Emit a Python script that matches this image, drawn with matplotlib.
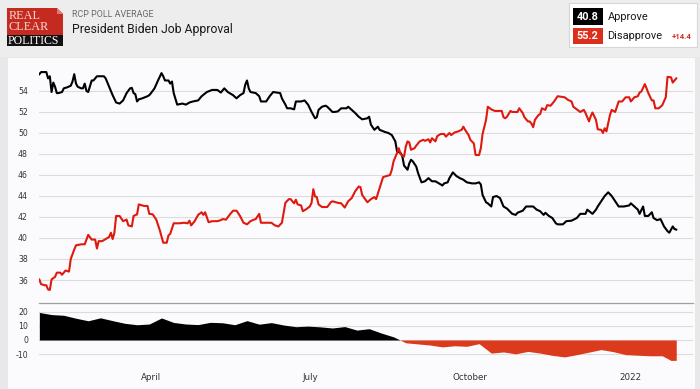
import numpy as np
import pandas as pd
import matplotlib
matplotlib.use("Agg")
import matplotlib.pyplot as plt
from matplotlib.patches import Rectangle, Polygon

plt.rcParams["axes.unicode_minus"] = False

# --- data (days after 2021-01-27, RCP average %) ---
start = pd.Timestamp("2021-01-27")

approve_days = [0, 1, 4, 5, 6, 7, 8, 9, 10, 11, 13, 14, 16, 18, 19, 20, 21, 22, 24, 25,
                26, 27, 28, 30, 31, 33, 37, 38, 40, 42, 44, 46, 48, 50, 52, 53, 54, 55, 56, 57,
                59, 62, 63, 64, 66, 68, 70, 71, 72, 74, 75, 76, 77, 79, 82, 84, 86, 88, 91, 93,
                96, 99, 102, 104, 106, 108, 111, 113, 115, 117, 118, 119, 120, 121, 124, 126, 127, 130, 132, 134,
                136, 138, 139, 141, 142, 144, 146, 147, 150, 152, 154, 156, 158, 159, 160, 162, 164, 165, 168, 169,
                171, 173, 176, 177, 179, 181, 183, 185, 188, 189, 190, 192, 194, 195, 198, 200, 202, 203, 204, 205,
                207, 208, 209, 211, 212, 213, 214, 216, 217, 219, 221, 223, 225, 227, 229, 231, 232, 234, 235, 237,
                239, 241, 243, 245, 248, 250, 252, 253, 254, 256, 257, 259, 260, 262, 264, 266, 268, 271, 273, 274,
                277, 279, 283, 285, 287, 289, 290, 292, 294, 296, 297, 300, 302, 305, 308, 310, 313, 314, 317, 319,
                320, 322, 324, 326, 328, 330, 332, 335, 338, 339, 341, 343, 344, 346, 347, 349, 351, 352, 354, 356,
                358, 360, 361, 363, 364, 365]
approve = [55.6, 55.8, 55.8, 55.2, 55.4, 53.9, 54.8, 54.4, 53.8, 53.8, 53.9, 54.25, 54.35, 54.5, 54.9, 55.6, 54.7, 54.4, 54.25, 54.25,
           54.7, 54.0, 53.9, 55.0, 55.0, 55.4, 55.4, 55.2, 54.4, 53.6, 52.9, 52.8, 53.1, 53.8, 54.25, 54.3, 53.8, 53.7, 53.0, 53.2,
           53.3, 53.5, 53.6, 53.8, 54.25, 55.0, 55.7, 55.4, 55.0, 55.0, 54.7, 54.9, 53.8, 52.7, 52.8, 52.7, 52.9, 53.0, 53.1, 53.5,
           53.9, 54.1, 54.1, 53.85, 54.25, 53.9, 53.6, 53.3, 53.6, 53.8, 54.6, 55.0, 54.25, 53.9, 53.8, 53.5, 53.0, 53.0, 53.5, 53.9,
           53.85, 53.8, 53.3, 52.7, 52.35, 52.35, 52.25, 53.0, 53.0, 53.1, 52.7, 52.0, 51.4, 51.5, 52.2, 52.5, 52.6, 52.5, 52.0, 52.0,
           52.05, 52.35, 52.35, 52.5, 52.2, 51.9, 51.55, 51.3, 51.4, 51.55, 50.8, 50.3, 50.6, 50.3, 50.1, 50.0, 49.8, 49.5, 49.2, 48.25,
           48.1, 47.8, 46.9, 46.5, 47.1, 47.45, 47.3, 46.8, 46.2, 45.3, 45.4, 45.7, 45.4, 45.4, 45.2, 45.0, 45.2, 45.3, 45.7, 46.25,
           45.9, 45.7, 45.55, 45.3, 45.2, 45.2, 45.3, 45.1, 44.1, 43.4, 43.3, 43.0, 43.9, 44.0, 43.8, 43.0, 42.8, 42.3, 42.2, 42.4,
           42.6, 43.0, 43.0, 42.7, 42.55, 42.2, 42.4, 42.1, 41.9, 41.4, 41.3, 41.3, 41.6, 41.65, 41.9, 42.3, 42.3, 42.7, 42.3, 42.7,
           43.0, 43.5, 44.0, 44.35, 44.0, 43.5, 43.0, 43.0, 43.1, 43.3, 43.0, 42.7, 42.3, 43.0, 42.1, 42.1, 42.45, 41.9, 41.7, 41.8,
           41.1, 40.65, 40.5, 41.1, 40.85, 40.8]

disapprove_days = [0, 1, 3, 4, 5, 6, 7, 9, 10, 12, 13, 15, 17, 18, 20, 21, 24, 26, 27, 28,
                   30, 32, 33, 34, 36, 38, 40, 41, 42, 43, 44, 46, 48, 50, 51, 53, 54, 56, 57, 60,
                   62, 63, 65, 67, 69, 71, 73, 74, 75, 77, 80, 83, 85, 86, 87, 89, 91, 93, 94, 95,
                   97, 99, 102, 104, 105, 107, 109, 111, 113, 115, 117, 119, 121, 123, 124, 126, 127, 129, 133, 135,
                   137, 139, 140, 141, 143, 144, 146, 147, 148, 150, 151, 153, 155, 156, 157, 158, 159, 160, 162, 165,
                   167, 168, 171, 173, 175, 177, 179, 181, 183, 184, 185, 188, 190, 192, 193, 195, 197, 199, 201, 202,
                   203, 205, 206, 207, 209, 210, 211, 212, 213, 215, 216, 218, 220, 221, 223, 224, 225, 227, 228, 230,
                   232, 233, 235, 236, 238, 240, 242, 243, 244, 246, 247, 249, 250, 252, 253, 254, 256, 257, 259, 261,
                   263, 265, 266, 267, 268, 270, 271, 273, 274, 275, 277, 278, 280, 281, 282, 283, 284, 286, 287, 288,
                   290, 291, 293, 295, 297, 299, 301, 303, 305, 306, 308, 310, 312, 313, 315, 316, 317, 319, 320, 322,
                   323, 324, 325, 327, 328, 330, 332, 334, 336, 338, 339, 341, 343, 344, 345, 347, 348, 349, 351, 352,
                   353, 355, 357, 359, 360, 362, 363, 365]
disapprove = [36.05, 35.6, 35.5, 35.5, 35.1, 35.05, 36.05, 36.3, 36.7, 36.7, 36.5, 36.9, 36.8, 38.0, 38.9, 39.3, 39.4, 39.4, 39.85, 40.3,
              39.85, 39.85, 39.0, 39.7, 39.7, 39.9, 40.1, 40.5, 39.9, 40.5, 42.1, 42.1, 41.6, 41.75, 41.2, 41.1, 42.1, 42.25, 43.2, 43.05,
              43.05, 42.3, 42.25, 41.75, 40.75, 39.55, 39.55, 40.25, 40.4, 41.4, 41.4, 41.45, 41.4, 41.65, 41.2, 41.6, 42.2, 42.45, 42.2, 42.45,
              41.5, 41.6, 41.6, 41.7, 41.8, 41.75, 42.2, 42.6, 42.6, 42.1, 41.45, 41.3, 41.6, 41.75, 41.8, 42.3, 41.45, 41.45, 41.45, 41.2,
              41.1, 41.45, 42.4, 43.35, 43.7, 43.7, 43.3, 43.65, 43.2, 43.1, 42.55, 42.75, 43.0, 43.35, 44.65, 43.95, 43.9, 43.2, 42.95, 42.95,
              43.4, 43.5, 43.35, 43.3, 42.9, 43.5, 43.8, 44.45, 44.9, 44.85, 44.1, 43.4, 43.7, 43.9, 43.7, 44.75, 45.8, 45.9, 46.0, 46.5,
              47.3, 48.1, 48.55, 48.0, 47.75, 48.7, 49.2, 49.1, 48.4, 48.55, 48.8, 49.2, 49.35, 49.25, 49.4, 49.1, 49.5, 49.2, 49.7, 49.9,
              49.9, 49.65, 50.0, 49.8, 50.05, 50.15, 50.3, 50.6, 50.3, 49.8, 49.35, 49.0, 47.9, 47.9, 48.55, 49.9, 51.25, 52.5, 52.25, 52.1,
              52.1, 52.1, 51.5, 51.4, 51.55, 52.1, 52.0, 52.0, 52.0, 52.35, 51.9, 51.5, 51.1, 51.1, 50.9, 50.55, 51.25, 51.7, 51.8, 52.35,
              52.2, 52.65, 52.6, 53.0, 53.5, 53.45, 53.4, 53.15, 53.0, 52.5, 52.25, 52.0, 52.2, 51.9, 51.1, 51.6, 51.95, 51.25, 50.35, 50.3,
              50.0, 50.45, 50.15, 51.7, 52.2, 52.0, 53.0, 53.0, 53.4, 53.4, 53.0, 53.4, 53.5, 53.85, 53.95, 54.65, 54.25, 53.8, 53.1, 53.1,
              52.35, 52.35, 52.65, 53.4, 55.35, 55.3, 54.8, 55.2]

# spread (approve - disapprove)
spread_days = [0, 7, 14, 21, 28, 35, 42, 49, 56, 63, 70, 77, 84, 91, 98, 105, 112, 119, 126, 133,
               140, 147, 154, 161, 168, 175, 182, 189, 196, 203, 210, 217, 224, 231, 238, 245, 252, 259, 266, 273,
               280, 287, 294, 301, 308, 315, 322, 329, 336, 343, 350, 357, 362, 365]
spread = [19.5, 18.0, 17.5, 15.4, 13.6, 15.7, 13.7, 11.8, 10.8, 11.3, 15.6, 12.4, 11.3, 10.9, 12.5, 12.2, 10.8, 13.7, 11.2, 12.3,
          10.6, 9.4, 9.8, 9.3, 8.5, 9.5, 7.0, 8.0, 4.9, 2.2, -2.0, -2.8, -3.6, -4.9, -4.1, -4.5, -2.6, -9.3, -8.5, -9.8,
          -8.1, -9.3, -10.9, -12.0, -10.4, -8.6, -6.8, -8.3, -10.4, -10.8, -11.2, -11.2, -14.5, -14.4]

month_ticks = ["2021-04-01", "2021-07-01", "2021-10-01", "2022-01-01"]
month_labels = ["April", "July", "October", "2022"]

last_approve, last_disapprove, spread_label = "40.8", "55.2", "+14.4"

# --- figure ---
W, H = 700, 389
fig = plt.figure(figsize=(7, 3.89), dpi=100, facecolor="#e8e8e8")

def fx(x):
    return x / W

def fy(y):
    return 1 - y / H

RED = "#e0190e"
BG = "#fbfbfd"

# header band + chart panel (behind the axes)
fig.patches.append(Rectangle((0, fy(57)), 1, 57 / H, transform=fig.transFigure,
                             facecolor="#ededed", edgecolor="none", zorder=-2))
fig.patches.append(Rectangle((fx(8), 0), fx(687), fy(58), transform=fig.transFigure,
                             facecolor=BG, edgecolor="none", zorder=-1))

ad = [start + pd.Timedelta(days=d) for d in approve_days]
dd = [start + pd.Timedelta(days=d) for d in disapprove_days]
sd = [start + pd.Timedelta(days=d) for d in spread_days]
xmin = start - pd.Timedelta(days=0.2)
xmax = start + pd.Timedelta(days=374.6)

# main axes
ax = fig.add_axes([fx(39), fy(303), fx(693 - 39), (303 - 58) / H], zorder=5)
ax.set_facecolor(BG)
ax.plot(ad, approve, color="black", lw=1.5, zorder=3)
ax.plot(dd, disapprove, color=RED, lw=1.5, zorder=3)
ax.set_xlim(xmin, xmax)
ax.set_ylim(33.81, 57.14)
ax.set_yticks(np.arange(36, 55, 2))
ax.grid(axis="y", color="#dcdcdc", lw=0.8)
ax.set_axisbelow(True)
for s in ax.spines.values():
    s.set_visible(False)
ax.tick_params(axis="y", length=0, pad=8, labelsize=5.6, labelcolor="#333333")
ax.tick_params(axis="x", length=0, labelbottom=False)

# spread axes
ax2 = fig.add_axes([fx(39), fy(362), fx(693 - 39), (362 - 303) / H], zorder=5)
ax2.set_facecolor(BG)
sv = np.array(spread)
ax2.fill_between(sd, 0, sv, where=sv >= 0, interpolate=True, color="black", lw=0, zorder=3)
ax2.fill_between(sd, 0, sv, where=sv <= 0, interpolate=True, color="#dc3a1c", lw=0, zorder=3)
ax2.set_xlim(xmin, xmax)
ax2.set_ylim(-15.6, 26.2)
ax2.set_yticks([-10, 0, 10, 20])
ax2.grid(axis="y", color="#dcdcdc", lw=0.8)
ax2.set_axisbelow(True)
for s in ax2.spines.values():
    s.set_visible(False)
ax2.spines["top"].set_visible(True)
ax2.spines["top"].set_color("#a0a0a0")
ax2.spines["top"].set_linewidth(0.9)
ax2.set_xticks([pd.Timestamp(t) for t in month_ticks])
ax2.set_xticklabels(month_labels)
ax2.tick_params(axis="y", length=0, pad=8, labelsize=5.6, labelcolor="#333333")
ax2.tick_params(axis="x", length=0, pad=8, labelsize=6.3, labelcolor="#333333")

# --- header: logo ---
fig.patches.append(Rectangle((fx(7), fy(35)), fx(56), 27 / H, transform=fig.transFigure,
                             facecolor="#c42a20", edgecolor="none", zorder=2))
fig.patches.append(Polygon([(fx(57), fy(8)), (fx(63), fy(8)), (fx(63), fy(14))], closed=True,
                           transform=fig.transFigure, facecolor="#ededed", edgecolor="none", zorder=3))
fig.patches.append(Polygon([(fx(57), fy(8)), (fx(63), fy(14)), (fx(57), fy(14))], closed=True,
                           transform=fig.transFigure, facecolor="#e07a70", edgecolor="none", zorder=3))
fig.patches.append(Rectangle((fx(7), fy(46)), fx(56), 11 / H, transform=fig.transFigure,
                             facecolor="#111111", edgecolor="none", zorder=2))
serif = ["Liberation Serif", "DejaVu Serif"]
fig.text(fx(8.5), fy(16), "REAL", family=serif, fontsize=8.8, color="#f6d6d2", va="center", ha="left", zorder=4)
fig.text(fx(8.5), fy(27.5), "CLEAR", family=serif, fontsize=8.8, color="#f6d6d2", va="center", ha="left", zorder=4)
fig.text(fx(8.0), fy(40.8), "POLITICS", family=serif, fontsize=8.5, color="white", va="center", ha="left", zorder=4)

sans = ["Roboto", "DejaVu Sans"]
fig.text(fx(72.5), fy(14.5), "RCP POLL AVERAGE", family=sans, fontsize=6.4, color="#6a6a6a", va="center")
fig.text(fx(72.5), fy(29), "President Biden Job Approval", family=sans, fontsize=8.8, color="#1a1a1a", va="center")

# --- header: legend box ---
fig.patches.append(Rectangle((fx(569), fy(47)), fx(128), 44 / H, transform=fig.transFigure,
                             facecolor="white", edgecolor="#d6d6d6", lw=0.8, zorder=2))
fig.patches.append(Rectangle((fx(573), fy(24.5)), fx(29.5), 16.5 / H, transform=fig.transFigure,
                             facecolor="black", edgecolor="none", zorder=3))
fig.patches.append(Rectangle((fx(573), fy(44)), fx(29.5), 16 / H, transform=fig.transFigure,
                             facecolor="#dc2f1b", edgecolor="none", zorder=3))
fig.text(fx(587.8), fy(16.5), last_approve, family=sans, fontsize=7.8, fontweight="bold",
         color="white", ha="center", va="center", zorder=4)
fig.text(fx(587.8), fy(36), last_disapprove, family=sans, fontsize=7.8, fontweight="bold",
         color="white", ha="center", va="center", zorder=4)
fig.text(fx(607.5), fy(16.5), "Approve", family=sans, fontsize=7.9, color="#1a1a1a", va="center", zorder=4)
fig.text(fx(607.5), fy(36), "Disapprove", family=sans, fontsize=7.9, color="#1a1a1a", va="center", zorder=4)
fig.text(fx(671.5), fy(36.5), spread_label, family=sans, fontsize=5.6, fontweight="bold",
         color="#d42a1e", va="center", zorder=4)

fig.savefig("out.png", dpi=100, facecolor=fig.get_facecolor())
